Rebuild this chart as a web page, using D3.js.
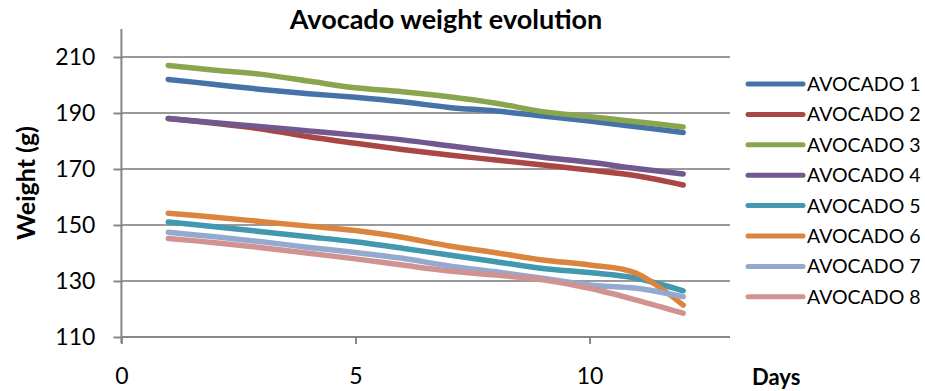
<!DOCTYPE html>
<html>
<head>
<meta charset="utf-8">
<script src="https://cdn.jsdelivr.net/npm/d3@7"></script>
<style>
  html, body { margin: 0; padding: 0; background: #fff; }
  svg text { font-family: Lato, "Open Sans", sans-serif; fill: #000; }
</style>
</head>
<body>
<svg id="chart" width="925" height="391"></svg>
<script>
const days = [1, 2, 3, 4, 5, 6, 7, 8, 9, 10, 11, 12];
const seriesNames = ["AVOCADO 1", "AVOCADO 2", "AVOCADO 3", "AVOCADO 4", "AVOCADO 5", "AVOCADO 6", "AVOCADO 7", "AVOCADO 8"];
const avocado1 = [202, 200.2, 198.4, 196.9, 195.6, 194, 192, 190.7, 188.9, 187.1, 185.1, 183];
const avocado2 = [188, 186.3, 184.3, 181.5, 179.2, 177, 175, 173.2, 171.4, 169.6, 167.6, 164.3];
const avocado3 = [207, 205.3, 203.8, 201.4, 199, 197.6, 195.8, 193.5, 190.5, 188.7, 186.9, 185];
const avocado4 = [188, 186.5, 185.1, 183.6, 182.1, 180.4, 178.3, 176.2, 174.2, 172.4, 170.2, 168.2];
const avocado5 = [151.1, 149.4, 147.6, 145.8, 144, 141.7, 139.3, 136.9, 134.5, 133, 131, 126.5];
const avocado6 = [154.2, 152.8, 151.2, 149.6, 148, 145.6, 142.5, 140.1, 137.5, 135.7, 132.8, 121.4];
const avocado7 = [147.4, 145.8, 144, 142, 140.2, 138.1, 135.4, 133.3, 131, 128.6, 127.4, 124.4];
const avocado8 = [145.2, 143.7, 141.9, 139.9, 137.9, 135.7, 133.6, 132.1, 130.4, 127.4, 123.2, 118.5];
const colors = ["#4572A7", "#AA4643", "#89A54E", "#71588F", "#4198AF", "#DB843D", "#93A9CF", "#D19392"];
const xTicks = [0, 5, 10];
const yTicks = [110, 130, 150, 170, 190, 210];
const xDomain = [0, 13];
const yDomain = [110, 220];

const allValues = [avocado1, avocado2, avocado3, avocado4, avocado5, avocado6, avocado7, avocado8];
const series = seriesNames.map((name, i) => ({
  name, color: colors[i],
  points: days.map((d, j) => ({ x: d, y: allValues[i][j] }))
}));

const svg = d3.select("#chart");
const mLeft = 121.4, mRight = 730, mTop = 29, mBottom = 337;
const x = d3.scaleLinear().domain(xDomain).range([mLeft, mRight]);
const y = d3.scaleLinear().domain(yDomain).range([mBottom, mTop]);
const axisColor = "#878787";

// gridlines
svg.append("g").selectAll("line")
  .data(yTicks.filter(t => t !== yDomain[0]))
  .join("line")
  .attr("x1", mLeft).attr("x2", mRight)
  .attr("y1", d => y(d)).attr("y2", d => y(d))
  .attr("stroke", "#9a9a9a").attr("stroke-width", 2);

// y axis
const yAxis = svg.append("g").attr("transform", `translate(${mLeft},0)`)
  .call(d3.axisLeft(y).tickValues(yTicks).tickSize(8).tickPadding(18).tickFormat(d3.format("d")));
yAxis.select(".domain").attr("stroke", axisColor).attr("stroke-width", 2).attr("d", `M0,${mTop}V${mBottom + 6}`);
yAxis.selectAll(".tick line").attr("stroke", axisColor).attr("stroke-width", 2).attr("x2", -8).attr("x1", 1);
yAxis.selectAll(".tick text").attr("font-size", 23).attr("font-family", "Lato, sans-serif").attr("fill", "#000");

// x axis
const xAxis = svg.append("g").attr("transform", `translate(0,${mBottom})`)
  .call(d3.axisBottom(x).tickValues(xTicks).tickSize(7).tickPadding(24).tickFormat(d3.format("d")));
xAxis.select(".domain").attr("stroke", axisColor).attr("stroke-width", 2).attr("d", `M${mLeft},0H${mRight}`);
xAxis.selectAll(".tick line").attr("stroke", axisColor).attr("stroke-width", 2);
xAxis.selectAll(".tick text").attr("font-size", 23).attr("font-family", "Lato, sans-serif").attr("fill", "#000");

// lines
const line = d3.line().x(d => x(d.x)).y(d => y(d.y)).curve(d3.curveCardinal.tension(0));
svg.append("g").selectAll("path")
  .data(series)
  .join("path")
  .attr("d", d => line(d.points))
  .attr("fill", "none")
  .attr("stroke", d => d.color)
  .attr("stroke-width", 5.5)
  .attr("stroke-linecap", "round")
  .attr("stroke-linejoin", "round");

// title
svg.append("text").attr("x", 446).attr("y", 29).attr("text-anchor", "middle")
  .attr("font-size", 27).attr("font-weight", "bold").text("Avocado weight evolution");

// axis titles
svg.append("text").attr("transform", "translate(35,183) rotate(-90)").attr("text-anchor", "middle")
  .attr("font-size", 25).attr("font-weight", "bold").text("Weight (g)");
svg.append("text").attr("x", 752).attr("y", 385)
  .attr("font-size", 22).attr("font-weight", "bold").text("Days");

// legend
const legend = svg.append("g").selectAll("g")
  .data(series)
  .join("g")
  .attr("transform", (d, i) => `translate(748,${84 + i * 30.4})`);
legend.append("line").attr("x1", 0).attr("x2", 55).attr("y1", 0).attr("y2", 0)
  .attr("stroke", d => d.color).attr("stroke-width", 5).attr("stroke-linecap", "round");
legend.append("text").attr("x", 59).attr("y", 0).attr("dy", "0.36em")
  .attr("font-size", 19.5)
  .text(d => d.name);
</script>
</body>
</html>
